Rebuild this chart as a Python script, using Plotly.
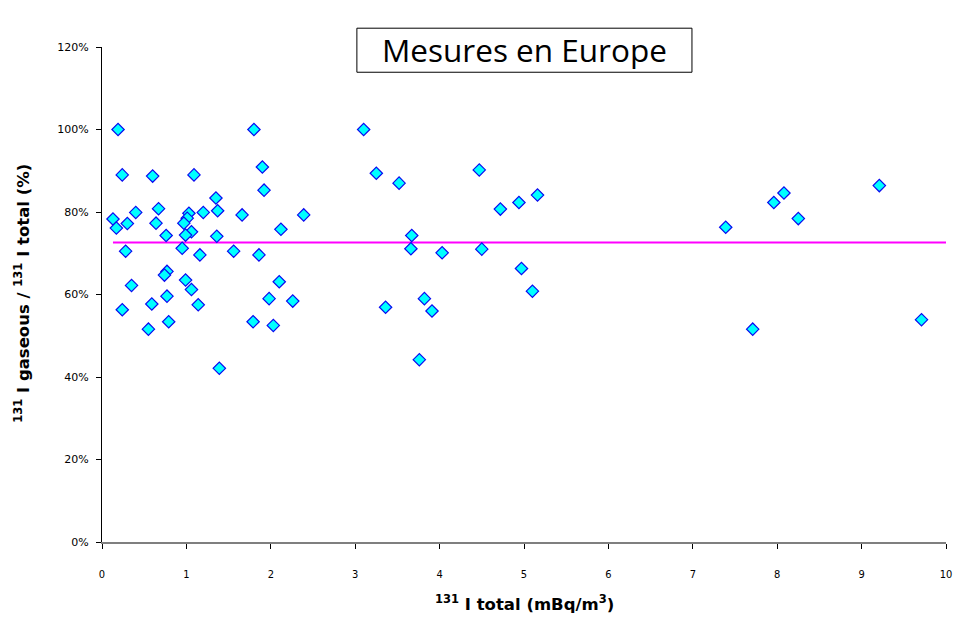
import plotly.graph_objects as go

# 131I total (mBq/m3)
i131_total = [0.19, 1.80, 3.10, 0.24, 0.60, 1.09, 1.90, 1.92, 1.35, 0.13,
              0.17, 0.40, 0.30, 0.67, 0.64, 0.76, 1.03, 1.01, 0.97, 1.06,
              0.99, 1.20, 1.37, 1.66, 1.36, 0.28, 0.95, 1.16, 1.56, 1.86,
              0.77, 0.74, 0.99, 0.35, 1.06, 0.77, 0.59, 0.24, 1.14, 0.79,
              0.55, 1.79, 1.39, 1.98, 3.25, 3.52, 2.39, 2.12, 3.67, 3.66,
              2.10, 2.26, 2.03, 3.36, 3.82, 3.91, 3.76, 4.47, 5.16, 4.94,
              4.72, 4.03, 4.50, 4.97, 5.10, 7.39, 7.96, 8.08, 8.25, 9.21,
              7.71, 9.71]
# 131I gaseous / 131I total (%)
gaseous_pct = [100, 100, 100, 89.0, 88.7, 89.0, 90.9, 85.3, 83.4, 78.3,
               76.1, 79.9, 77.2, 80.8, 77.3, 74.3, 79.7, 78.5, 77.3, 75.2,
               74.4, 79.9, 80.3, 79.3, 74.1, 70.5, 71.2, 69.6, 70.5, 69.6,
               65.6, 64.7, 63.5, 62.2, 61.2, 59.6, 57.7, 56.3, 57.5, 53.4,
               51.6, 53.4, 42.1, 59.0, 89.4, 87.0, 79.3, 75.8, 74.3, 71.1,
               63.1, 58.4, 52.5, 56.9, 59.0, 56.0, 44.2, 90.2, 84.1, 82.3,
               80.7, 70.1, 71.0, 66.3, 60.8, 76.3, 82.3, 84.6, 78.4, 86.4,
               51.6, 53.9]

# mean line
mean_x = [0.13, 10.0]
mean_pct = [72.6, 72.6]

x_ticks = [0, 1, 2, 3, 4, 5, 6, 7, 8, 9, 10]
y_ticks_pct = [0, 20, 40, 60, 80, 100, 120]

fig = go.Figure()
fig.add_trace(go.Scatter(
    x=mean_x, y=[v / 100 for v in mean_pct], mode="lines",
    line=dict(color="#FF00FF", width=2), hoverinfo="skip", showlegend=False))
fig.add_trace(go.Scatter(
    x=i131_total, y=[v / 100 for v in gaseous_pct], mode="markers",
    marker=dict(symbol="diamond", size=9.5, color="#00FFFF",
                line=dict(color="#0A0AF0", width=1.2)),
    showlegend=False))

fig.update_layout(
    width=945, height=609,
    margin=dict(l=94, r=7, t=39, b=75, autoexpand=False),
    paper_bgcolor="white", plot_bgcolor="white",
    font=dict(family="DejaVu Sans", size=11, color="black"),
    xaxis=dict(range=[0, 10], tickvals=x_ticks, ticktext=[str(t) for t in x_ticks],
               automargin=False,
               showgrid=False, zeroline=False, showline=True, linecolor="#7F7F7F",
               linewidth=2, ticks="outside", ticklen=5, tickcolor="black",
               ticklabeloverflow="allow",
               ticklabelstandoff=16, tickfont=dict(family="DejaVu Sans Condensed", size=11)),
    yaxis=dict(range=[0, 1.2], tickvals=[t / 100 for t in y_ticks_pct],
               ticktext=[f"{t}%" for t in y_ticks_pct],
               automargin=False,
               showgrid=False, zeroline=False, showline=True, linecolor="black",
               linewidth=1, ticks="outside", ticklen=5, tickcolor="black",
               ticklabelstandoff=5, tickfont=dict(family="DejaVu Sans", size=11)),
    shapes=[dict(type="rect", xref="paper", yref="paper",
                 x0=0.302, x1=0.699, y0=0.949, y1=1.038,
                 line=dict(color="black", width=1), fillcolor="white", layer="above")],
    annotations=[
        dict(text="Mesures en Europe", xref="paper", yref="paper", x=0.500, y=0.994,
             xanchor="center", yanchor="middle", showarrow=False,
             font=dict(family="Open Sans", size=31.5, color="black")),
        dict(text="<b><sup>131</sup> I total (mBq/m<sup>3</sup>)</b>", xref="paper", yref="paper",
             x=0.500, y=-0.149, xanchor="center", yanchor="bottom", showarrow=False,
             font=dict(family="DejaVu Sans", size=16.5, color="black")),
        dict(text="<b><sup>131</sup> I gaseous / <sup>131</sup> I total (%)</b>", xref="paper", yref="paper",
             x=-0.095, y=0.503, xanchor="center", yanchor="middle", showarrow=False,
             textangle=-90, font=dict(family="DejaVu Sans", size=16.5, color="black")),
    ],
)

fig.write_html("out.html")
